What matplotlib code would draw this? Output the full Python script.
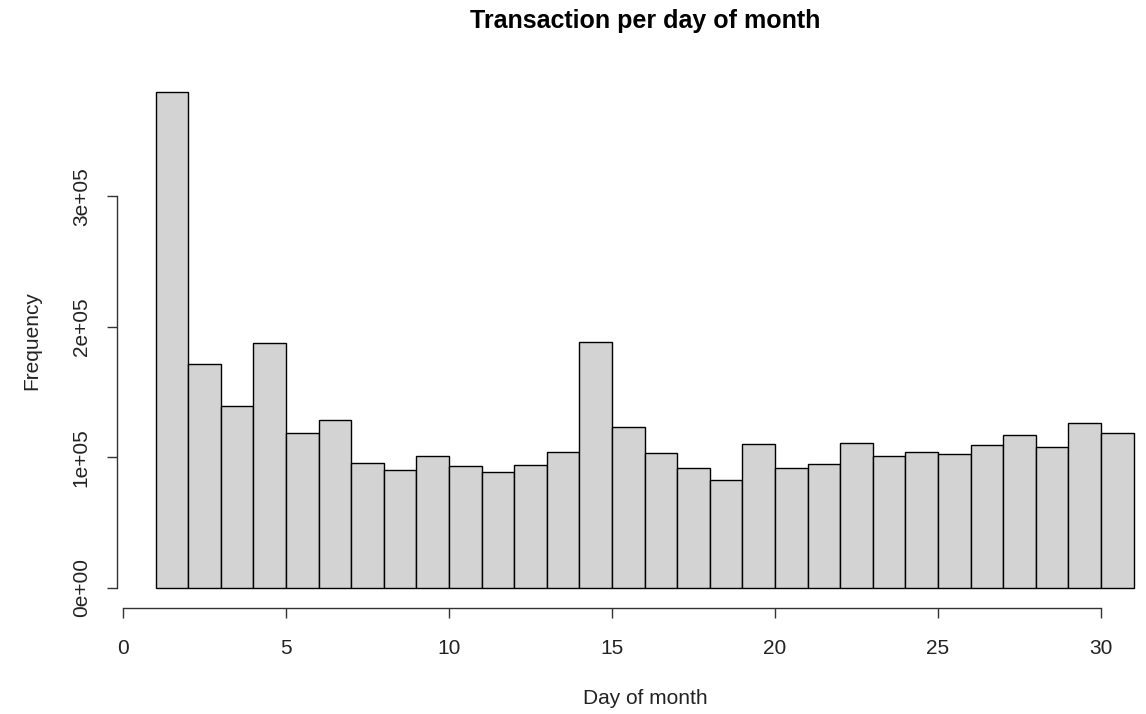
import matplotlib
matplotlib.use("Agg")
import matplotlib.pyplot as plt

# transactions counted per day of month (bins 1-2, 2-3, ..., 30-31)
days = list(range(1, 31))
counts = [380100, 171500, 139300, 187300, 118500, 128900, 95900, 90100, 101100, 93000,
          88400, 94000, 104200, 188300, 122800, 103200, 91500, 82300, 109800, 92000,
          94500, 110600, 101100, 104200, 102700, 109300, 116700, 107500, 126400, 118500]

x_ticks = [0, 5, 10, 15, 20, 25, 30]
y_ticks = [0, 100000, 200000, 300000]
y_tick_labels = ["0e+00", "1e+05", "2e+05", "3e+05"]

plt.rcParams['font.family'] = ['Liberation Sans', 'DejaVu Sans']

W, H = 1146, 714
fig = plt.figure(figsize=(W / 100, H / 100), dpi=100)

# plot region in pixels (R-style, partly off the right edge)
left_px, right_px = 116.5, 1172.7
top_px, bottom_px = 72.0, 607.5
ax = fig.add_axes([left_px / W, 1 - bottom_px / H,
                   (right_px - left_px) / W, (bottom_px - top_px) / H])

ax.bar(days, counts, width=1.0, align='edge', color='#d3d3d3',
       edgecolor='black', linewidth=1.0)

ymax = max(counts)
ax.set_xlim(1 - 0.04 * 30, 31 + 0.04 * 30)
ax.set_ylim(-0.04 * ymax, ymax * 1.04)

for s in ['top', 'right']:
    ax.spines[s].set_visible(False)
ax.spines['left'].set_bounds(0, 300000)
ax.spines['bottom'].set_bounds(0, 30)
for s in ['left', 'bottom']:
    ax.spines[s].set_linewidth(1.0)
    ax.spines[s].set_color('#333333')

ax.set_xticks(x_ticks)
ax.set_xticklabels([str(t) for t in x_ticks])
ax.set_yticks(y_ticks)
ax.set_yticklabels(y_tick_labels, rotation=90, va='center')
ax.tick_params(axis='both', length=7.5, width=1.0, color='#333333',
               labelsize=15, labelcolor='#222222')
ax.tick_params(axis='x', pad=15)
ax.tick_params(axis='y', pad=11)

fig.text(645 / W, 1 - 21 / H, "Transaction per day of month", ha='center',
         va='center', fontsize=18, fontweight='bold')
fig.text(645 / W, 1 - 699 / H, "Day of month", ha='center', va='center',
         fontsize=15, color='#222222')
fig.text(32 / W, 1 - 341 / H, "Frequency", ha='center', va='center',
         rotation=90, fontsize=15, color='#222222')

fig.savefig("out.png", dpi=100)
